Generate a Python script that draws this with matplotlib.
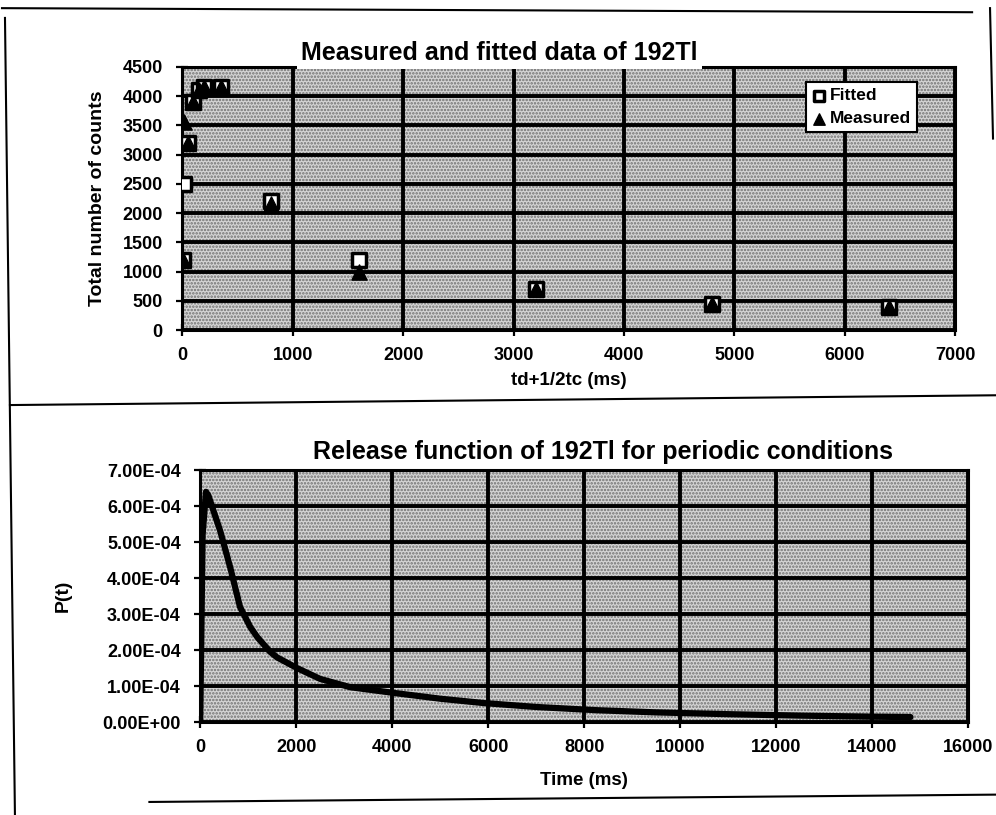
import matplotlib
matplotlib.use("Agg")
import matplotlib.pyplot as plt
from matplotlib.lines import Line2D
from matplotlib.patches import Rectangle
from matplotlib.ticker import FuncFormatter, MultipleLocator

# Data
td_half_tc = [10, 20, 50, 100, 150, 200, 350, 800, 1600, 3200, 4800, 6400]
fitted = [1200, 2500, 3200, 3900, 4100, 4150, 4150, 2200, 1200, 700, 450, 400]
measured = [1200, 3550, 3200, 3900, 4100, 4150, 4150, 2150, 1000, 700, 450, 400]

time_ms = [0, 50, 120, 170, 420, 625, 830, 1040, 1190, 1460, 1600, 2020, 2500,
           3125, 4100, 5000, 5900, 7000, 8270, 9500, 11000, 12500, 14000, 14800]
p_t = [0, 5.2e-4, 6.4e-4, 6.3e-4, 5.3e-4, 4.3e-4, 3.2e-4, 2.65e-4, 2.36e-4,
       1.95e-4, 1.8e-4, 1.5e-4, 1.2e-4, 0.97e-4, 0.8e-4, 0.65e-4, 0.53e-4,
       0.42e-4, 0.33e-4, 0.27e-4, 0.22e-4, 0.18e-4, 0.15e-4, 0.14e-4]

plt.rcParams['font.family'] = ['Liberation Sans', 'DejaVu Sans']
plt.rcParams['font.weight'] = 'bold'
plt.rcParams['hatch.linewidth'] = 1.2

fig = plt.figure(figsize=(9.96, 8.15), dpi=100)


def style_axes(ax):
    ax.set_facecolor('#d4d4d4')
    # stipple texture like the scanned print
    ax.add_patch(Rectangle((0, 0), 1, 1, transform=ax.transAxes, facecolor='none',
                           edgecolor='#707070', linewidth=0, hatch='.....', zorder=0))
    ax.grid(True, color='black', linewidth=2.8)
    ax.set_axisbelow(True)
    for s in ax.spines.values():
        s.set_linewidth(2.2)
    ax.tick_params(direction='inout', length=8, width=1.6, labelsize=13)
    ax.tick_params(axis='x', pad=8)
    ax.tick_params(axis='y', pad=10)
    for lab in ax.get_xticklabels() + ax.get_yticklabels():
        lab.set_fontweight('bold')


# top panel
ax1 = fig.add_axes([0.183, 0.595, 0.776, 0.323])
ax1.scatter(td_half_tc, fitted, marker='s', s=100, facecolor='white', edgecolor='black',
            linewidth=2.5, label='Fitted', zorder=3)
ax1.scatter(td_half_tc, measured, marker='^', s=120, color='black', label='Measured', zorder=4)
ax1.set_xlim(0, 7000)
ax1.set_ylim(0, 4500)
ax1.xaxis.set_major_locator(MultipleLocator(1000))
ax1.yaxis.set_major_locator(MultipleLocator(500))
style_axes(ax1)
ax1.set_xlabel('td+1/2tc (ms)', fontsize=13.5, fontweight='bold', labelpad=6)
ax1.set_ylabel('Total number of counts', fontsize=14, fontweight='bold', labelpad=12)
ax1.set_title('Measured and fitted data of 192Tl', fontsize=18, fontweight='bold', pad=5,
              x=0.41, bbox=dict(facecolor='white', edgecolor='none', pad=3))
leg = ax1.legend(loc='upper right', bbox_to_anchor=(0.962, 0.975), fancybox=False,
                 framealpha=1, edgecolor='black', fontsize=12.5, handletextpad=0.15,
                 borderpad=0.35, handlelength=0.9, markerscale=0.75, labelspacing=0.45)
leg.get_frame().set_linewidth(1.5)
for t in leg.get_texts():
    t.set_fontweight('bold')

# bottom panel
ax2 = fig.add_axes([0.201, 0.114, 0.771, 0.309])
ax2.plot(time_ms, p_t, color='black', linewidth=4.5, solid_capstyle='round', zorder=3)
ax2.set_xlim(0, 16000)
ax2.set_ylim(0, 7e-4)
ax2.xaxis.set_major_locator(MultipleLocator(2000))
ax2.yaxis.set_major_locator(MultipleLocator(1e-4))
ax2.yaxis.set_major_formatter(FuncFormatter(lambda v, p: f'{v:.2E}'))
style_axes(ax2)
ax2.set_xlabel('Time (ms)', fontsize=13.5, fontweight='bold', labelpad=12)
ax2.set_ylabel('P(t)', fontsize=14, fontweight='bold', labelpad=22)
ax2.set_title('Release function of 192Tl for periodic conditions', fontsize=18,
              fontweight='bold', pad=8, x=0.525,
              bbox=dict(facecolor='white', edgecolor='none', pad=3))

# page frame lines from the scan
frame = [((0.002, 0.990), (0.976, 0.985)), ((0.005, 0.978), (0.015, 0.0)),
         ((0.994, 0.990), (0.997, 0.83)), ((0.010, 0.503), (1.0, 0.515)),
         ((0.15, 0.016), (1.0, 0.025))]
for (x0, y0), (x1, y1) in frame:
    fig.add_artist(Line2D([x0, x1], [y0, y1], color='black', linewidth=1.5,
                          transform=fig.transFigure))

fig.savefig('out.png', dpi=100, facecolor='white')
